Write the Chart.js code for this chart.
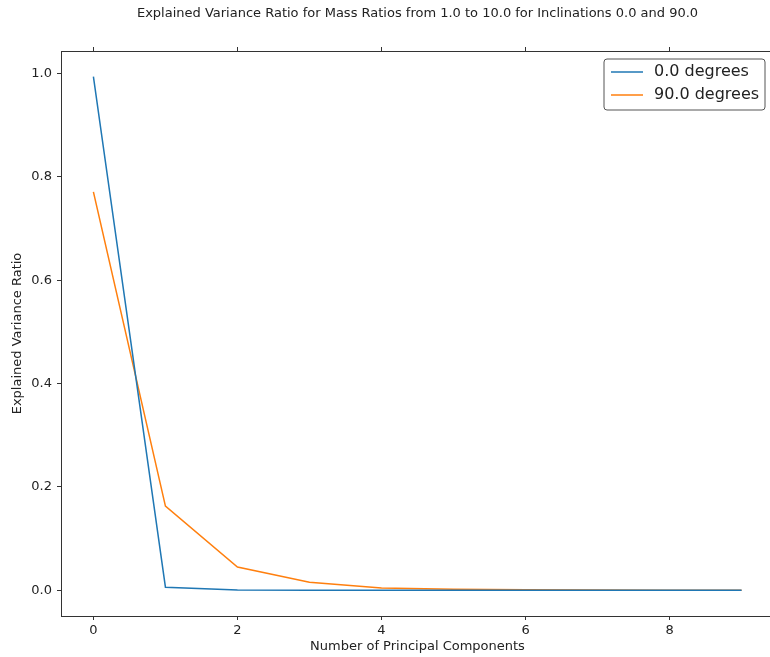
<!DOCTYPE html>
<html>
<head>
<meta charset="utf-8">
<script src="https://cdn.jsdelivr.net/npm/chart.js@4.4.1/dist/chart.umd.min.js"></script>
<style>
  html, body { margin: 0; padding: 0; background: #fff; overflow: hidden; }
  #wrap { width: 774px; height: 657px; }
</style>
</head>
<body>
<div id="wrap"><canvas id="pcaChart" width="774" height="657"></canvas></div>
<script>
// Explained variance ratio per principal component
const components = [0, 1, 2, 3, 4, 5, 6, 7, 8, 9];
const ratio0deg = [0.994, 0.006, 0.0005, 0.0003, 0.0002, 0.0001, 0.0001, 0.0001, 0.0001, 0.0001];
const ratio90deg = [0.771, 0.163, 0.045, 0.0155, 0.0045, 0.002, 0.001, 0.0006, 0.0003, 0.0002];
const seriesLabels = ['0.0 degrees', '90.0 degrees'];
const xTicks = [0, 2, 4, 6, 8];
const yTicks = [0.0, 0.2, 0.4, 0.6, 0.8, 1.0];

const chartTitle = 'Explained Variance Ratio for Mass Ratios from 1.0 to 10.0 for Inclinations 0.0 and 90.0';
const xTitle = 'Number of Principal Components';
const yTitle = 'Explained Variance Ratio';

const FONT = "'DejaVu Sans', sans-serif";
const INK = '#222';

function toPoints(vals) {
    return vals.map((v, i) => ({ x: components[i], y: v }));
}

function fixTicks(list) {
    return function(scale) {
        scale.ticks = list.map(v => ({ value: v }));
    };
}

// Titles and a matplotlib-like legend box
const decorations = {
    id: 'decorations',
    afterDraw(chart) {
        const ctx = chart.ctx;
        const area = chart.chartArea;
        const midX = (area.left + area.right) / 2;
        ctx.save();
        ctx.fillStyle = INK;
        ctx.textAlign = 'center';
        ctx.textBaseline = 'middle';
        ctx.font = '13px ' + FONT;
        ctx.fillText(chartTitle, midX, 14);
        ctx.fillText(xTitle, midX, 647);
        ctx.translate(18, (area.top + area.bottom) / 2);
        ctx.rotate(-Math.PI / 2);
        ctx.fillText(yTitle, 0, 0);
        ctx.restore();

        // legend
        ctx.save();
        const bx = 604, by = 59, bw = 161, bh = 51, r = 3;
        ctx.beginPath();
        ctx.moveTo(bx + r, by);
        ctx.arcTo(bx + bw, by, bx + bw, by + bh, r);
        ctx.arcTo(bx + bw, by + bh, bx, by + bh, r);
        ctx.arcTo(bx, by + bh, bx, by, r);
        ctx.arcTo(bx, by, bx + bw, by, r);
        ctx.closePath();
        ctx.fillStyle = 'rgba(255,255,255,0.9)';
        ctx.fill();
        ctx.strokeStyle = '#555';
        ctx.lineWidth = 1;
        ctx.stroke();
        ctx.font = '16px ' + FONT;
        ctx.textAlign = 'left';
        ctx.textBaseline = 'middle';
        chart.data.datasets.forEach((ds, i) => {
            const yy = 72 + i * 23;
            ctx.strokeStyle = ds.borderColor;
            ctx.lineWidth = 1.5;
            ctx.beginPath();
            ctx.moveTo(611, yy);
            ctx.lineTo(643, yy);
            ctx.stroke();
            ctx.fillStyle = INK;
            ctx.fillText(ds.label, 654, yy);
        });
        ctx.restore();
    }
};

const tickGrid = {
    display: true,
    drawOnChartArea: false,
    drawTicks: true,
    tickLength: 4,
    color: '#333'
};

new Chart(document.getElementById('pcaChart').getContext('2d'), {
    type: 'line',
    data: {
        datasets: [
            {
                label: seriesLabels[0],
                data: toPoints(ratio0deg),
                borderColor: '#1f77b4',
                borderWidth: 1.5,
                pointRadius: 0,
                tension: 0,
                fill: false
            },
            {
                label: seriesLabels[1],
                data: toPoints(ratio90deg),
                borderColor: '#ff7f0e',
                borderWidth: 1.5,
                pointRadius: 0,
                tension: 0,
                fill: false
            }
        ]
    },
    options: {
        responsive: false,
        animation: false,
        layout: { padding: 0 },
        plugins: {
            legend: { display: false },
            title: { display: false },
            tooltip: { enabled: false }
        },
        scales: {
            x: {
                type: 'linear',
                position: 'bottom',
                min: -0.45,
                max: 9.45,
                afterBuildTicks: fixTicks(xTicks),
                afterFit(scale) { scale.height = 41; },
                grid: tickGrid,
                border: { display: true, color: '#333', width: 1 },
                ticks: {
                    padding: 3,
                    color: INK,
                    font: { family: FONT, size: 13 },
                    maxRotation: 0,
                    callback: v => String(v)
                }
            },
            xTop: {
                type: 'linear',
                position: 'top',
                min: -0.45,
                max: 9.45,
                afterBuildTicks: fixTicks(xTicks),
                afterFit(scale) { scale.height = 51; },
                grid: tickGrid,
                border: { display: true, color: '#333', width: 1 },
                ticks: { display: false }
            },
            y: {
                type: 'linear',
                position: 'left',
                min: -0.0497,
                max: 1.0437,
                afterBuildTicks: fixTicks(yTicks),
                afterFit(scale) { scale.width = 61; },
                grid: tickGrid,
                border: { display: true, color: '#333', width: 1 },
                ticks: {
                    padding: 5,
                    color: INK,
                    font: { family: FONT, size: 13 },
                    callback: v => v.toFixed(1)
                }
            }
        }
    },
    plugins: [decorations]
});
</script>
</body>
</html>
